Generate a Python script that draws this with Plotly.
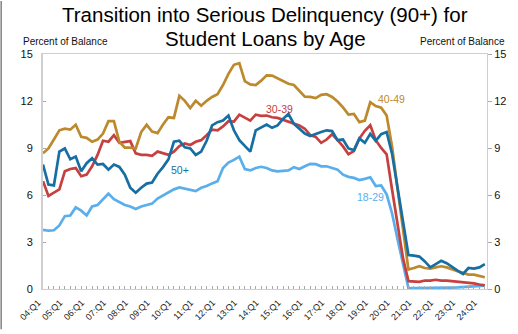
import plotly.graph_objects as go

# Quarterly data, 04:Q1 .. 24:Q2 (percent of balance)
age_40_49 = [8.66, 8.97, 9.54, 10.13, 10.23, 10.17, 10.48, 9.71, 9.65, 9.40,
             9.54, 9.92, 10.71, 10.71, 9.40, 9.02, 9.02, 8.97, 10.02, 10.48,
             10.05, 9.95, 10.50, 10.96, 10.92, 12.33, 12.01, 11.55, 12.01, 11.70,
             12.01, 12.26, 12.43, 13.02, 13.73, 14.31, 14.42, 13.27, 13.06, 13.02,
             13.30, 13.64, 13.62, 13.43, 13.27, 13.10, 13.02, 12.68, 12.28, 12.26,
             12.18, 12.39, 12.43, 12.26, 11.97, 11.59, 11.13, 11.17, 10.65, 10.75,
             11.92, 11.68, 11.57, 11.07, 9.08, 6.40, 3.90, 1.24, 1.34, 1.45,
             1.34, 1.30, 1.38, 1.45, 1.38, 1.24, 1.13, 1.03, 0.92, 0.92,
             0.82, 0.75]
age_30_39 = [6.88, 5.94, 6.15, 6.36, 7.51, 7.66, 7.72, 7.20, 7.30, 7.83,
             8.56, 9.46, 9.40, 9.82, 9.33, 9.40, 9.44, 8.66, 8.56, 8.56,
             8.50, 8.77, 8.66, 8.56, 8.77, 9.12, 9.29, 9.19, 9.40, 9.50,
             9.82, 10.17, 10.13, 10.38, 10.71, 10.69, 11.13, 10.92, 10.75, 11.13,
             11.05, 11.07, 10.96, 10.92, 10.79, 10.65, 10.54, 10.44, 10.23, 9.82,
             9.71, 9.33, 9.54, 9.88, 9.50, 9.10, 8.60, 8.80, 9.60, 10.10,
             10.45, 9.50, 9.00, 8.60, 6.34, 4.07, 1.97, 0.50, 0.50, 0.46,
             0.54, 0.54, 0.59, 0.54, 0.54, 0.50, 0.46, 0.46, 0.38, 0.36,
             0.29, 0.23]
age_50_plus = [7.94, 6.67, 6.61, 8.77, 8.97, 8.28, 8.45, 7.51, 8.03, 8.35,
               7.94, 7.98, 7.62, 7.94, 7.79, 7.30, 6.46, 6.15, 6.46, 6.73,
               6.80, 7.36, 7.78, 8.28, 9.40, 9.46, 9.04, 8.97, 8.56, 8.77,
               9.46, 10.44, 10.65, 10.75, 11.07, 10.13, 9.50, 9.12, 8.77, 10.13,
               10.30, 10.50, 10.29, 10.44, 10.86, 11.17, 10.54, 10.23, 9.92, 9.77,
               9.92, 10.02, 10.13, 10.08, 9.50, 9.54, 8.97, 8.87, 9.61, 9.33,
               9.90, 9.46, 9.88, 10.02, 8.62, 6.42, 4.37, 2.17, 2.13, 2.07,
               1.76, 1.38, 1.59, 1.80, 1.65, 1.38, 1.17, 0.96, 1.34, 1.30,
               1.38, 1.59]
age_18_29 = [3.78, 3.72, 3.75, 4.06, 4.65, 4.69, 5.21, 5.00, 4.69, 5.27,
             5.36, 5.73, 6.09, 5.73, 5.56, 5.36, 5.27, 5.11, 5.27, 5.36,
             5.45, 5.77, 5.98, 6.19, 6.36, 6.48, 6.40, 6.32, 6.25, 6.46,
             6.57, 6.74, 6.88, 7.72, 8.07, 8.24, 8.45, 7.66, 7.57, 7.72,
             7.80, 7.72, 7.57, 7.51, 7.55, 7.57, 7.78, 7.66, 7.83, 7.99,
             7.97, 7.83, 7.83, 7.72, 7.62, 7.30, 7.16, 7.09, 6.95, 7.03,
             7.13, 6.57, 6.61, 6.04, 4.82, 3.18, 1.65, 0.05, 0.05, 0.05,
             0.06, 0.06, 0.06, 0.07, 0.08, 0.09, 0.10, 0.12, 0.14, 0.16,
             0.19, 0.22]

tick_labels = ["04:Q1", "05:Q1", "06:Q1", "07:Q1", "08:Q1", "09:Q1", "10:Q1",
               "11:Q1", "12:Q1", "13:Q1", "14:Q1", "15:Q1", "16:Q1", "17:Q1",
               "18:Q1", "19:Q1", "20:Q1", "21:Q1", "22:Q1", "23:Q1", "24:Q1"]
y_ticks = [0, 3, 6, 9, 12, 15]

x = list(range(len(age_40_49)))
tick_pos = [4 * k for k in range(len(tick_labels))]

C_GOLD = "#BC8A2C"
C_RED = "#C6403F"
C_DBLUE = "#176EA2"
C_LBLUE = "#5AAEEB"
FONT = "Liberation Sans, Arial, sans-serif"

fig = go.Figure()
for name, ys, col in [("18-29", age_18_29, C_LBLUE),
                      ("30-39", age_30_39, C_RED),
                      ("40-49", age_40_49, C_GOLD),
                      ("50+", age_50_plus, C_DBLUE)]:
    fig.add_trace(go.Scatter(x=x, y=ys, mode="lines", name=name,
                             line=dict(color=col, width=2.7), showlegend=False,
                             hoverinfo="skip"))
# invisible trace to activate the right axis
fig.add_trace(go.Scatter(x=[0], y=[0], yaxis="y2", mode="markers",
                         marker=dict(opacity=0), showlegend=False, hoverinfo="skip"))

axis_col = "#cfcfcf"
fig.update_layout(
    width=518, height=334,
    margin=dict(l=43, r=27, t=54, b=41),
    paper_bgcolor="white", plot_bgcolor="white",
    font=dict(family=FONT, color="#111111"),
    xaxis=dict(range=[0, 81.4], tickvals=tick_pos, ticktext=tick_labels,
               tickangle=-45, tickfont=dict(size=9, color="#222222"),
               ticks="inside", ticklen=3, tickcolor="#aaaaaa",
               ticklabelshift=-5, ticklabelstandoff=4,
               minor=dict(ticks="inside", dtick=1, tick0=0, ticklen=3, tickcolor="#aaaaaa"),
               showline=True, linecolor=axis_col, linewidth=1, mirror=True,
               showgrid=False, zeroline=False),
    yaxis=dict(range=[0, 15], tickvals=y_ticks, tickfont=dict(size=11, color="#111111"),
               ticks="inside", ticklen=3, tickcolor="#aaaaaa",
               showline=True, linecolor=axis_col, linewidth=2,
               showgrid=False, zeroline=False, ticklabelstandoff=6),
    yaxis2=dict(range=[0, 15], tickvals=y_ticks, overlaying="y", side="right",
                tickfont=dict(size=11, color="#111111"),
                ticks="outside", ticklen=4, tickcolor="#aaaaaa",
                showline=True, linecolor=axis_col, linewidth=1,
                showgrid=False, zeroline=False),
)

ann = []
ann.append(dict(text="Transition into Serious Delinquency (90+) for", x=0.5, y=(293 - 13.5) / 239,
                xref="paper", yref="paper", xanchor="center", yanchor="middle",
                showarrow=False, font=dict(size=20.5, color="#000000", family=FONT)))
ann.append(dict(text="Student Loans by Age", x=0.5, y=(293 - 38) / 239,
                xref="paper", yref="paper", xanchor="center", yanchor="middle",
                showarrow=False, font=dict(size=20.5, color="#000000", family=FONT)))
ann.append(dict(text="Percent of Balance", x=(21 - 43) / 448, y=(293 - 41.5) / 239,
                xref="paper", yref="paper", xanchor="left", yanchor="middle",
                showarrow=False, font=dict(size=10, color="#111111", family=FONT)))
ann.append(dict(text="Percent of Balance", x=(511 - 43) / 448, y=(293 - 41.5) / 239,
                xref="paper", yref="paper", xanchor="right", yanchor="middle",
                showarrow=False, font=dict(size=10, color="#111111", family=FONT)))
for txt, xx, yy, col in [("40-49", 63.95, 12.11, C_GOLD),
                         ("30-39", 43.37, 11.49, C_RED),
                         ("50+", 25.13, 7.58, C_DBLUE),
                         ("18-29", 60.01, 5.87, C_LBLUE)]:
    ann.append(dict(text=txt, x=xx, y=yy, xref="x", yref="y", xanchor="center",
                    yanchor="middle", showarrow=False,
                    font=dict(size=10.5, color=col, family=FONT)))
fig.update_layout(annotations=ann)

# thin gray border at far left edge of the image
fig.add_shape(type="line", xref="paper", yref="paper",
              x0=(0.8 - 43) / 448, x1=(0.8 - 43) / 448,
              y0=(293 - 334) / 239, y1=293 / 239,
              line=dict(color="#8a8a8a", width=1.6))

fig.write_html("out.html")
